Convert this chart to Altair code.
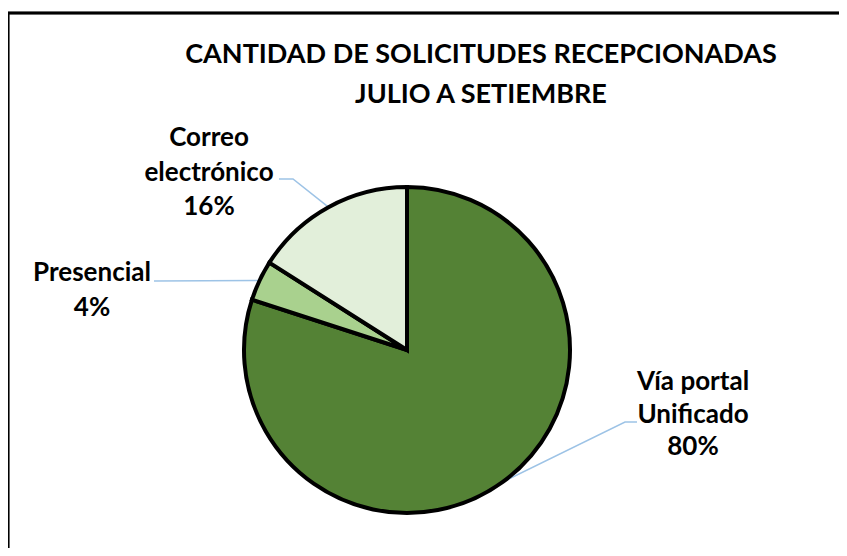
import math
import altair as alt
import pandas as pd

# ---- data ----
categories = ["Vía portal Unificado", "Presencial", "Correo electrónico"]
values = [80, 4, 16]
label_lines = [["Vía portal", "Unificado", "80%"], ["Presencial", "4%"], ["Correo", "electrónico", "16%"]]
colors = ["#548235", "#A9D18E", "#E2EFDA"]
title_lines = ["CANTIDAD DE SOLICITUDES RECEPCIONADAS", "JULIO A SETIEMBRE"]

# ---- layout ----
W, H = 831, 540
CX, CY, R = 399, 342, 163
FONT = "Lato"
label_pos = {  # label first-line centre (x, y)
    "Vía portal Unificado": (685, 374),
    "Presencial": (84, 265),
    "Correo electrónico": (201, 130),
}
leader_tail = {  # elbow and end of each leader line
    "Vía portal Unificado": [(617, 414), (629, 414)],
    "Presencial": [(200, 273), (146, 273)],
    "Correo electrónico": [(285, 171), (271, 171)],
}

df = pd.DataFrame({"cat": categories, "value": values, "idx": range(len(categories))})

pie = alt.Chart(df).mark_arc(radius=R, stroke="black", strokeWidth=4).encode(
    theta=alt.Theta("value:Q", stack=True),
    color=alt.Color("cat:N", scale=alt.Scale(domain=categories, range=colors), legend=None),
    order=alt.Order("idx:Q"),
    x=alt.value(CX),
    y=alt.value(CY),
)

# leader lines from slice midpoints
total = sum(values)
rows = []
cum = 0
for c, v in zip(categories, values):
    mid = (cum + v / 2) / total * 2 * math.pi
    cum += v
    sx = CX + R * math.sin(mid)
    sy = CY - R * math.cos(mid)
    pts = [(sx, sy)] + leader_tail[c]
    if c == "Presencial":
        pts = [(sx, sy), leader_tail[c][1]]
    for i, (px, py) in enumerate(pts):
        rows.append({"cat": c, "px": px, "py": py, "o": i})
lead_df = pd.DataFrame(rows)
leaders = alt.Chart(lead_df).mark_line(color="#9DC3E6", strokeWidth=1.5).encode(
    x=alt.X("px:Q", scale=None),
    y=alt.Y("py:Q", scale=None),
    detail="cat:N",
    order="o:Q",
)

lab_df = pd.DataFrame({
    "cat": categories,
    "txt": ["\n".join(l) for l in label_lines],
    "lx": [label_pos[c][0] for c in categories],
    "ly": [label_pos[c][1] for c in categories],
    "lh": [32.5, 35, 34.5],
})
labels = alt.layer(*[
    alt.Chart(lab_df[lab_df["cat"] == c]).mark_text(
        font=FONT, fontSize=26, fontWeight="bold", color="black",
        align="center", baseline="middle", lineBreak="\n",
        lineHeight=float(lab_df.loc[lab_df["cat"] == c, "lh"].iloc[0]),
    ).encode(
        x=alt.X("lx:Q", scale=None),
        y=alt.Y("ly:Q", scale=None),
        text="txt:N",
    )
    for c in categories
])

title_df = pd.DataFrame({"t": title_lines, "ty": [47, 87]})
title = alt.Chart(title_df).mark_text(
    font=FONT, fontSize=27, fontWeight="bold", color="black", align="center", baseline="middle"
).encode(
    x=alt.value(473),
    y=alt.Y("ty:Q", scale=None),
    text="t:N",
)

border_top = alt.Chart(df).mark_rule(color="black", strokeWidth=2.5).encode(
    x=alt.value(0), x2=alt.value(W + 10), y=alt.value(5)
)
border_left = alt.Chart(df).mark_rule(color="black", strokeWidth=2.5).encode(
    x=alt.value(0), y=alt.value(5), y2=alt.value(H + 10)
)

chart = alt.layer(border_top, border_left, leaders, pie, labels, title).properties(
    width=W, height=H, autosize=alt.AutoSizeParams(type="none"), padding=0
).configure_view(stroke=None)

chart.save("out.html", embed_options={"renderer": "svg", "actions": False})
